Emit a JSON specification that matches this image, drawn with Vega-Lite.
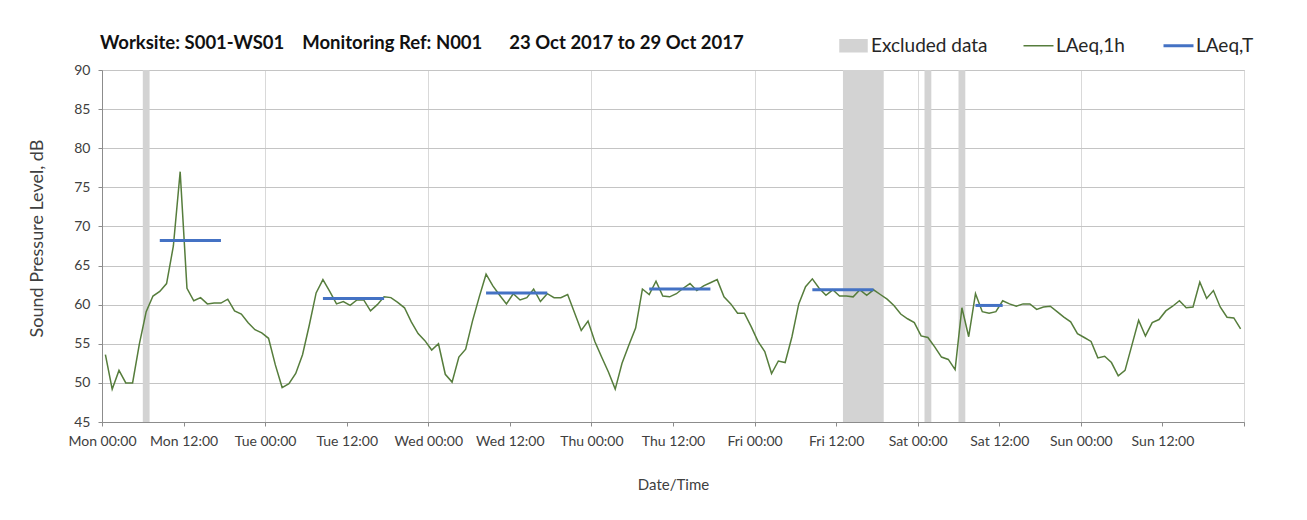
{
  "$schema": "https://vega.github.io/schema/vega-lite/v6.json",
  "autosize": "none",
  "width": 1142,
  "height": 352,
  "padding": {"left": 102, "top": 70, "right": 63, "bottom": 98},
  "background": "white",
  "config": {
    "font": "Lato",
    "view": {"stroke": "#bfbfbf", "strokeWidth": 1},
    "axis": {"labelFont": "Lato", "titleFont": "Lato", "labelColor": "#404040", "titleColor": "#404040", "labelFontSize": 14, "titleFontSize": 15, "titleFontWeight": "normal", "domainColor": "#8c8c8c", "tickColor": "#8c8c8c", "tickSize": 4}
  },
  "title": {
    "text": "Worksite: S001-WS01\u00a0\u00a0\u00a0 Monitoring Ref: N001\u00a0\u00a0\u00a0\u00a0\u00a0 23 Oct 2017 to 29 Oct 2017",
    "anchor": "start",
    "frame": "group",
    "font": "Lato",
    "fontSize": 18.5,
    "fontWeight": "bold",
    "color": "#111111",
    "offset": 18,
    "dy": 34,
    "dx": -2
  },
  "datasets": {
    "excluded": [
      {"h0": 6, "h1": 7}, {"h0": 109, "h1": 115}, {"h0": 121, "h1": 122}, {"h0": 126, "h1": 127}
    ],
    "laeqT": [
      {"h0": 8.5, "h1": 17.5, "v": 68.2},
      {"h0": 32.5, "h1": 41.5, "v": 60.8},
      {"h0": 56.5, "h1": 65.5, "v": 61.5},
      {"h0": 80.5, "h1": 89.5, "v": 62.0},
      {"h0": 104.5, "h1": 113.5, "v": 61.9},
      {"h0": 128.5, "h1": 132.5, "v": 59.9}
    ],
    "laeq1h": [
      {"h": 0.5, "v": 53.6}, {"h": 1.5, "v": 49.2}, {"h": 2.5, "v": 51.6}, {"h": 3.5, "v": 50.0}, {"h": 4.5, "v": 50.0}, {"h": 5.5, "v": 55.0},
      {"h": 6.5, "v": 59.1}, {"h": 7.5, "v": 61.1}, {"h": 8.5, "v": 61.7}, {"h": 9.5, "v": 62.7}, {"h": 10.5, "v": 67.5}, {"h": 11.5, "v": 77.0},
      {"h": 12.5, "v": 62.1}, {"h": 13.5, "v": 60.5}, {"h": 14.5, "v": 60.9}, {"h": 15.5, "v": 60.1}, {"h": 16.5, "v": 60.2}, {"h": 17.5, "v": 60.2},
      {"h": 18.5, "v": 60.7}, {"h": 19.5, "v": 59.2}, {"h": 20.5, "v": 58.8}, {"h": 21.5, "v": 57.7}, {"h": 22.5, "v": 56.8}, {"h": 23.5, "v": 56.4},
      {"h": 24.5, "v": 55.7}, {"h": 25.5, "v": 52.3}, {"h": 26.5, "v": 49.4}, {"h": 27.5, "v": 49.9}, {"h": 28.5, "v": 51.2}, {"h": 29.5, "v": 53.6},
      {"h": 30.5, "v": 57.4}, {"h": 31.5, "v": 61.5}, {"h": 32.5, "v": 63.2}, {"h": 33.5, "v": 61.7}, {"h": 34.5, "v": 60.1}, {"h": 35.5, "v": 60.4},
      {"h": 36.5, "v": 59.9}, {"h": 37.5, "v": 60.6}, {"h": 38.5, "v": 60.6}, {"h": 39.5, "v": 59.2}, {"h": 40.5, "v": 60.0}, {"h": 41.5, "v": 61.0},
      {"h": 42.5, "v": 60.9}, {"h": 43.5, "v": 60.3}, {"h": 44.5, "v": 59.6}, {"h": 45.5, "v": 57.8}, {"h": 46.5, "v": 56.3}, {"h": 47.5, "v": 55.4},
      {"h": 48.5, "v": 54.2}, {"h": 49.5, "v": 55.0}, {"h": 50.5, "v": 51.1}, {"h": 51.5, "v": 50.1}, {"h": 52.5, "v": 53.3}, {"h": 53.5, "v": 54.3},
      {"h": 54.5, "v": 57.9}, {"h": 55.5, "v": 61.0}, {"h": 56.5, "v": 63.9}, {"h": 57.5, "v": 62.4}, {"h": 58.5, "v": 61.2}, {"h": 59.5, "v": 60.1},
      {"h": 60.5, "v": 61.4}, {"h": 61.5, "v": 60.6}, {"h": 62.5, "v": 60.9}, {"h": 63.5, "v": 62.0}, {"h": 64.5, "v": 60.4}, {"h": 65.5, "v": 61.4},
      {"h": 66.5, "v": 60.9}, {"h": 67.5, "v": 60.9}, {"h": 68.5, "v": 61.3}, {"h": 69.5, "v": 59.0}, {"h": 70.5, "v": 56.7}, {"h": 71.5, "v": 57.9},
      {"h": 72.5, "v": 55.3}, {"h": 73.5, "v": 53.3}, {"h": 74.5, "v": 51.4}, {"h": 75.5, "v": 49.2}, {"h": 76.5, "v": 52.5}, {"h": 77.5, "v": 54.8},
      {"h": 78.5, "v": 57.0}, {"h": 79.5, "v": 62.0}, {"h": 80.5, "v": 61.3}, {"h": 81.5, "v": 63.0}, {"h": 82.5, "v": 61.1}, {"h": 83.5, "v": 61.0},
      {"h": 84.5, "v": 61.4}, {"h": 85.5, "v": 62.1}, {"h": 86.5, "v": 62.7}, {"h": 87.5, "v": 61.8}, {"h": 88.5, "v": 62.4}, {"h": 89.5, "v": 62.8},
      {"h": 90.5, "v": 63.2}, {"h": 91.5, "v": 61.0}, {"h": 92.5, "v": 60.1}, {"h": 93.5, "v": 58.9}, {"h": 94.5, "v": 58.9}, {"h": 95.5, "v": 57.2},
      {"h": 96.5, "v": 55.3}, {"h": 97.5, "v": 54.0}, {"h": 98.5, "v": 51.2}, {"h": 99.5, "v": 52.8}, {"h": 100.5, "v": 52.6}, {"h": 101.5, "v": 55.9},
      {"h": 102.5, "v": 60.1}, {"h": 103.5, "v": 62.3}, {"h": 104.5, "v": 63.3}, {"h": 105.5, "v": 62.1}, {"h": 106.5, "v": 61.2}, {"h": 107.5, "v": 61.9},
      {"h": 108.5, "v": 61.1}, {"h": 109.5, "v": 61.1}, {"h": 110.5, "v": 61.0}, {"h": 111.5, "v": 61.9}, {"h": 112.5, "v": 61.2}, {"h": 113.5, "v": 61.9},
      {"h": 114.5, "v": 61.3}, {"h": 115.5, "v": 60.7}, {"h": 116.5, "v": 59.9}, {"h": 117.5, "v": 58.8}, {"h": 118.5, "v": 58.2}, {"h": 119.5, "v": 57.7},
      {"h": 120.5, "v": 56.0}, {"h": 121.5, "v": 55.8}, {"h": 122.5, "v": 54.6}, {"h": 123.5, "v": 53.3}, {"h": 124.5, "v": 53.0}, {"h": 125.5, "v": 51.7},
      {"h": 126.5, "v": 59.6}, {"h": 127.5, "v": 55.9}, {"h": 128.5, "v": 61.4}, {"h": 129.5, "v": 59.1}, {"h": 130.5, "v": 58.9}, {"h": 131.5, "v": 59.1},
      {"h": 132.5, "v": 60.5}, {"h": 133.5, "v": 60.1}, {"h": 134.5, "v": 59.8}, {"h": 135.5, "v": 60.1}, {"h": 136.5, "v": 60.1}, {"h": 137.5, "v": 59.4},
      {"h": 138.5, "v": 59.7}, {"h": 139.5, "v": 59.8}, {"h": 140.5, "v": 59.1}, {"h": 141.5, "v": 58.4}, {"h": 142.5, "v": 57.8}, {"h": 143.5, "v": 56.3},
      {"h": 144.5, "v": 55.8}, {"h": 145.5, "v": 55.3}, {"h": 146.5, "v": 53.2}, {"h": 147.5, "v": 53.4}, {"h": 148.5, "v": 52.6}, {"h": 149.5, "v": 50.9},
      {"h": 150.5, "v": 51.6}, {"h": 151.5, "v": 54.8}, {"h": 152.5, "v": 58.0}, {"h": 153.5, "v": 56.0}, {"h": 154.5, "v": 57.7}, {"h": 155.5, "v": 58.1},
      {"h": 156.5, "v": 59.2}, {"h": 157.5, "v": 59.8}, {"h": 158.5, "v": 60.5}, {"h": 159.5, "v": 59.6}, {"h": 160.5, "v": 59.7}, {"h": 161.5, "v": 62.9},
      {"h": 162.5, "v": 60.8}, {"h": 163.5, "v": 61.8}, {"h": 164.5, "v": 59.7}, {"h": 165.5, "v": 58.4}, {"h": 166.5, "v": 58.3}, {"h": 167.5, "v": 56.9}
    ]
  },
  "layer": [
    {
      "data": {"name": "excluded"},
      "mark": {"type": "rect"},
      "encoding": {
        "x": {
          "field": "h0", "type": "quantitative",
          "scale": {"domain": [0, 168], "nice": false, "zero": false},
          "title": "Date/Time",
          "axis": {
            "values": [0, 12, 24, 36, 48, 60, 72, 84, 96, 108, 120, 132, 144, 156, 168],
            "tickCount": 20,
            "labelExpr": "datum.value >= 168 ? '' : ['Mon','Tue','Wed','Thu','Fri','Sat','Sun'][floor(datum.value / 24)] + (datum.value % 24 == 0 ? ' 00:00' : ' 12:00')",
            "labelPadding": 8,
            "titlePadding": 29,
            "grid": true,
            "gridColor": {"condition": {"test": "datum.value % 24 == 0", "value": "#d9d9d9"}, "value": "transparent"},
            "labelFlush": false,
            "labelOverlap": false
          }
        },
        "x2": {"field": "h1"},
        "color": {
          "datum": "Excluded data", "type": "nominal",
          "scale": {"domain": ["Excluded data", "LAeq,1h", "LAeq,T"], "range": ["#d3d3d3", "#567d3c", "#4472c4"]},
          "legend": {
            "orient": "none", "legendX": 742, "legendY": -34, "direction": "horizontal", "title": null,
            "labelFont": "Lato", "labelFontSize": 19, "labelColor": "#262626", "symbolSize": 900,
            "columnPadding": 32, "labelOffset": 8, "symbolType": "stroke", "symbolStrokeWidth": 2,
            "encode": {"symbols": {"update": {
              "shape": {"signal": "datum.value == 'Excluded data' ? 'M-0.9,-0.4H0.9V0.4H-0.9Z' : 'stroke'"},
              "fill": {"signal": "datum.value == 'Excluded data' ? '#d3d3d3' : 'transparent'"},
              "stroke": {"signal": "datum.value == 'Excluded data' ? 'transparent' : (datum.value == 'LAeq,T' ? '#4472c4' : '#567d3c')"},
              "strokeWidth": {"signal": "datum.value == 'LAeq,T' ? 3 : 1.5"}
            }}}
          }
        }
      }
    },
    {
      "data": {"name": "laeq1h"},
      "mark": {"type": "line", "strokeWidth": 1.5},
      "encoding": {
        "x": {"field": "h", "type": "quantitative"},
        "y": {
          "field": "v", "type": "quantitative",
          "scale": {"domain": [45, 90], "nice": false, "zero": false},
          "title": "Sound Pressure Level, dB",
          "axis": {"values": [45, 50, 55, 60, 65, 70, 75, 80, 85, 90], "tickCount": 20, "grid": true, "gridColor": "#c4c4c4", "labelPadding": 8, "titlePadding": 27, "titleFontSize": 18, "titleY": 168, "labelOverlap": false, "labelFlush": false}
        },
        "color": {"datum": "LAeq,1h", "type": "nominal"}
      }
    },
    {
      "data": {"name": "laeqT"},
      "mark": {"type": "rule", "strokeWidth": 3},
      "encoding": {
        "x": {"field": "h0", "type": "quantitative"},
        "x2": {"field": "h1"},
        "y": {"field": "v", "type": "quantitative"},
        "color": {"datum": "LAeq,T", "type": "nominal"}
      }
    }
  ]
}
